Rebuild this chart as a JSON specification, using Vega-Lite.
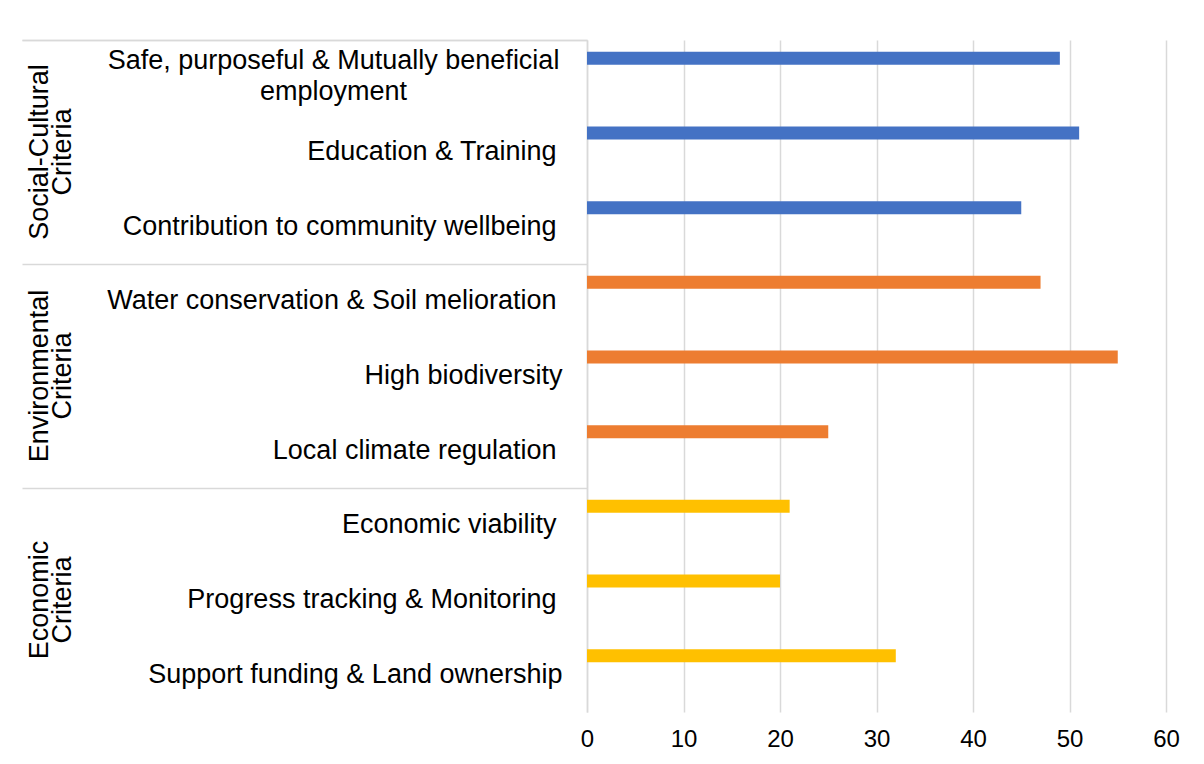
{
  "$schema": "https://vega.github.io/schema/vega-lite/v6.json",
  "width": 579,
  "height": 672,
  "autosize": {"type": "none"},
  "padding": {"left": 587, "top": 40, "right": 38, "bottom": 52},
  "background": "white",
  "config": {"view": {"stroke": null}, "font": "Liberation Sans"},
  "data": {
    "values": [
      {"criterion": "Safe, purposeful & Mutually beneficial employment", "group": "Social-Cultural Criteria", "score": 49},
      {"criterion": "Education & Training", "group": "Social-Cultural Criteria", "score": 51},
      {"criterion": "Contribution to community wellbeing", "group": "Social-Cultural Criteria", "score": 45},
      {"criterion": "Water conservation & Soil melioration", "group": "Environmental Criteria", "score": 47},
      {"criterion": "High biodiversity", "group": "Environmental Criteria", "score": 55},
      {"criterion": "Local climate regulation", "group": "Environmental Criteria", "score": 25},
      {"criterion": "Economic viability", "group": "Economic Criteria", "score": 21},
      {"criterion": "Progress tracking & Monitoring", "group": "Economic Criteria", "score": 20},
      {"criterion": "Support funding & Land ownership", "group": "Economic Criteria", "score": 32}
    ]
  },
  "layer": [
    {
      "mark": {"type": "bar", "height": 13, "yOffset": -19},
      "encoding": {
        "y": {
          "field": "criterion",
          "type": "nominal",
          "sort": null,
          "scale": {"paddingInner": 0, "paddingOuter": 0},
          "axis": {
            "title": null,
            "domain": true,
            "domainColor": "#d9d9d9",
            "domainWidth": 1.5,
            "ticks": false,
            "grid": false,
            "labelFontSize": 27,
            "labelColor": "black",
            "labelLimit": 0,
            "labelOverlap": false,
            "labelLineHeight": 31,
            "labelBaseline": "middle",
            "labelExpr": "datum.value === 'Safe, purposeful & Mutually beneficial employment' ? ['Safe, purposeful & Mutually beneficial', 'employment'] : datum.label",
            "labelAlign": {
              "condition": {"test": "datum.value === 'Safe, purposeful & Mutually beneficial employment'", "value": "center"},
              "value": "right"
            },
            "labelOffset": {
              "condition": {"test": "datum.value === 'Safe, purposeful & Mutually beneficial employment'", "value": -16},
              "value": 0
            },
            "labelPadding": {
              "condition": [
                {"test": "datum.value === 'Safe, purposeful & Mutually beneficial employment'", "value": 254},
                {"test": "datum.value === 'High biodiversity' || datum.value === 'Support funding & Land ownership'", "value": 25}
              ],
              "value": 31
            }
          }
        },
        "x": {
          "field": "score",
          "type": "quantitative",
          "scale": {"domain": [0, 60], "nice": false},
          "axis": {
            "title": null,
            "domain": false,
            "ticks": false,
            "grid": true,
            "gridColor": "#d9d9d9",
            "gridWidth": 1.5,
            "values": [0, 10, 20, 30, 40, 50, 60],
            "labelFontSize": 24,
            "labelColor": "black",
            "labelPadding": 15,
            "labelFlush": false
          }
        },
        "color": {
          "field": "group",
          "type": "nominal",
          "scale": {
            "domain": ["Social-Cultural Criteria", "Environmental Criteria", "Economic Criteria"],
            "range": ["#4472C4", "#ED7D31", "#FFC000"]
          },
          "legend": null
        }
      }
    },
    {
      "mark": {"type": "tick", "opacity": 0},
      "encoding": {
        "y": {
          "field": "group",
          "type": "nominal",
          "sort": null,
          "scale": {"paddingInner": 0, "paddingOuter": 0},
          "axis": {
            "orient": "left",
            "title": null,
            "domain": false,
            "ticks": true,
            "tickColor": "#d9d9d9",
            "tickWidth": 1.5,
            "tickSize": 565,
            "bandPosition": 0,
            "tickExtra": true,
            "grid": false,
            "labelAngle": -90,
            "labelAlign": "center",
            "labelBaseline": "middle",
            "labelFontSize": 27,
            "labelLineHeight": 23,
            "labelColor": "black",
            "labelPadding": -17,
            "labelLimit": 0,
            "labelOverlap": false,
            "labelExpr": "split(datum.label, ' ')"
          }
        }
      }
    }
  ],
  "resolve": {"scale": {"y": "independent"}, "axis": {"y": "independent"}}
}
